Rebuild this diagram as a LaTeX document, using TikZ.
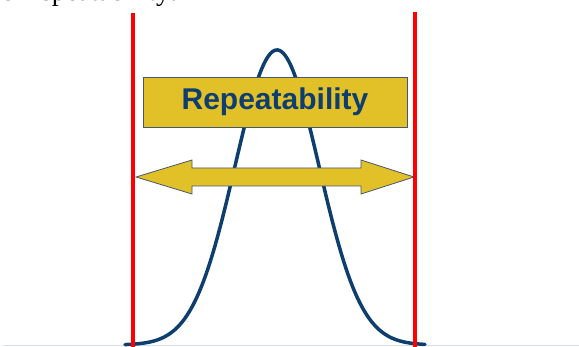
\documentclass[tikz,border=0pt]{standalone}
\usepackage{fontspec}
\setmainfont{Liberation Serif}
\newfontfamily\boxfont{Liberation Sans}
\definecolor{navy}{RGB}{14,62,112}
\definecolor{gold}{RGB}{226,192,40}
\definecolor{edgegray}{RGB}{70,88,112}
\definecolor{floorblue}{RGB}{212,224,236}
\definecolor{limred}{RGB}{255,0,0}
\tikzset{
  limit/.style={draw=limred, line width=4pt},
  bell/.style={draw=navy, line width=3.5pt, line cap=round},
  labelbox/.style={draw=edgegray, line width=0.8pt, fill=gold, minimum width=264pt, minimum height=50pt, inner sep=0pt, text=navy, font=\boxfont\bfseries\fontsize{30}{33}\selectfont},
  dblarrow/.style={draw=edgegray, line width=0.8pt, fill=gold, line join=miter},
  floorline/.style={draw=floorblue, line width=1pt}
}
\begin{document}
\begin{tikzpicture}[x=1pt,y=-1pt]
\useasboundingbox (0,0) rectangle (579,347);
\clip (0,0) rectangle (579,347);
\fill[white] (0,0) rectangle (579,347);
% cropped caption text at top
\node[anchor=base east, inner sep=0pt, font=\fontsize{28}{30}\selectfont] (caption) at (178,1) {e Repeatability:};
% base line
\coordinate (fl) at (3,346);
\coordinate (fr) at (579,346);
\draw[floorline] (fl) -- (fr);
% bell curve
\draw[bell] plot[domain=125:425, samples=160, smooth] (\x, {345-295*exp(-0.5*((\x-277)/42)^2)});
% label box
\node[labelbox] (box) at (275,102) {Repeatability};
% double arrow
\coordinate (ltip) at (136,177);
\coordinate (rtip) at (414,177);
\draw[dblarrow] (ltip) -- (192,160) -- (192,168) -- (361,168) -- (361,160) -- (rtip)
  -- (361,194) -- (361,186) -- (192,186) -- (192,194) -- cycle;
% red limits
\coordinate (ltop) at (133,13);
\coordinate (lbot) at (133,347);
\coordinate (rtop) at (415,12);
\coordinate (rbot) at (415,347);
\draw[limit] (ltop) -- (lbot);
\draw[limit] (rtop) -- (rbot);
\end{tikzpicture}
\end{document}
